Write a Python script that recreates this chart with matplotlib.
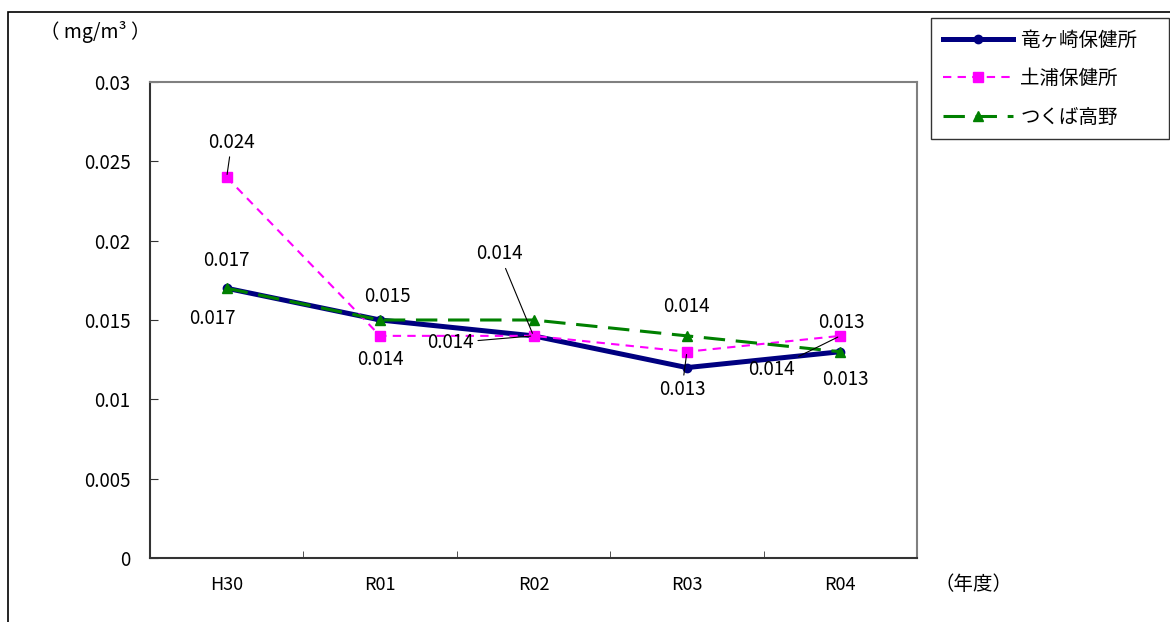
import numpy as np
import matplotlib
matplotlib.use("Agg")
import matplotlib.pyplot as plt
from matplotlib.patches import Rectangle

plt.rcParams['font.family'] = ['Noto Sans CJK JP', 'DejaVu Sans']

years = ["H30", "R01", "R02", "R03", "R04"]
ryugasaki = [0.017, 0.015, 0.014, 0.012, 0.013]
tsuchiura = [0.024, 0.014, 0.014, 0.013, 0.014]
tsukuba = [0.017, 0.015, 0.015, 0.014, 0.013]
names = ["竜ヶ崎保健所", "土浦保健所", "つくば高野"]
yticks = [0, 0.005, 0.01, 0.015, 0.02, 0.025, 0.03]
ytick_labels = ["0", "0.005", "0.01", "0.015", "0.02", "0.025", "0.03"]

# data labels: (series index, year index, dx px, dy px, leader line)
labels = [
    (1, 0, 5, 35, True),
    (0, 0, 0, 28, False),
    (2, 0, -14, -30, False),
    (0, 1, 7, 23, False),
    (1, 1, 0, -24, False),
    (0, 2, -34, 82, True),
    (1, 2, -83, -7, True),
    (2, 3, 0, 29, False),
    (1, 3, -5, -38, True),
    (0, 4, 1, 29, False),
    (1, 4, -69, -34, True),
    (2, 4, 5, -28, False),
]

series = [ryugasaki, tsuchiura, tsukuba]

fig = plt.figure(figsize=(11.7, 6.22), dpi=100)
ax = fig.add_axes([150 / 1170, 64 / 622, 767 / 1170, 476 / 622])

x = np.arange(len(years))
ax.plot(x, ryugasaki, color='#000080', lw=3.6, marker='o', markersize=6,
        label=names[0], zorder=3)
ax.plot(x, tsuchiura, color='#FF00FF', lw=1.5, marker='s', markersize=7,
        dashes=(4, 3), label=names[1], zorder=4)
ax.plot(x, tsukuba, color='#008000', lw=2.2, marker='^', markersize=7,
        dashes=(7, 3.5), label=names[2], zorder=5)

for s, i, dx, dy, leader in labels:
    v = series[s][i]
    props = None
    if leader:
        props = dict(arrowstyle='-', color='black', lw=0.8, shrinkA=1, shrinkB=2)
    ax.annotate(f"{v:.3f}", xy=(i, v), xytext=(dx, dy), textcoords='offset pixels',
                ha='center', va='center', fontsize=13.5, arrowprops=props, zorder=6)

ax.set_xlim(-0.5, len(years) - 0.5)
ax.set_ylim(0, 0.03)
ax.set_xticks(x)
ax.set_xticklabels(years, fontsize=13)
ax.set_xticks(np.arange(-0.5, len(years)), minor=True)
ax.tick_params(axis='x', which='major', length=0, pad=13)
ax.tick_params(axis='x', which='minor', direction='in', length=5, color='#333333')
ax.set_yticks(yticks)
ax.set_yticklabels(ytick_labels, fontsize=13.5)
ax.tick_params(axis='y', direction='in', length=6, pad=14, color='#333333')

for side in ['left', 'bottom']:
    ax.spines[side].set_color('#333333')
    ax.spines[side].set_linewidth(1.5)
for side in ['top', 'right']:
    ax.spines[side].set_color('#808080')
    ax.spines[side].set_linewidth(1.5)

# legend box spans to the right edge of the image
leg = fig.legend(loc='upper left',
                 bbox_to_anchor=(931 / 1170, 1 - 139 / 622, 238 / 1170, 121 / 622),
                 mode='expand', fontsize=14, frameon=True, fancybox=False,
                 edgecolor='black', handlelength=3.6, handletextpad=0.4,
                 labelspacing=0.9, borderpad=0.6, borderaxespad=0)
leg.get_frame().set_linewidth(1.0)

fig.text(40 / 1170, 1 - 32 / 622, "（ mg/m³ ）", fontsize=14, va='center', ha='left')
fig.text(935 / 1170, 1 - 585 / 622, "（年度）", fontsize=14, va='center', ha='left')

fig.patches.append(Rectangle((8 / 1170, -0.1), 1.2, 1.1 - 12 / 622,
                             transform=fig.transFigure, fill=False,
                             edgecolor='black', lw=1.2))

fig.savefig("out.png", dpi=100)
